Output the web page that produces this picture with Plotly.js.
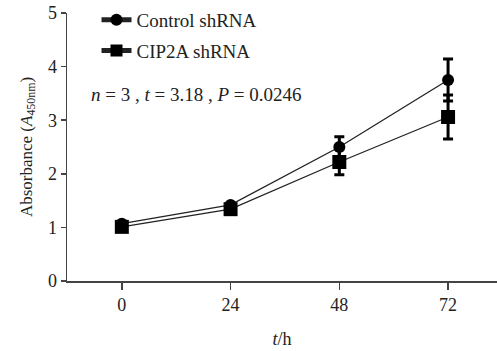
<!DOCTYPE html>
<html><head><meta charset="utf-8">
<script src="https://cdn.plot.ly/plotly-3.0.1.min.js"></script>
<style>body{margin:0;padding:0;background:#fff}#plot{width:497px;height:351px}</style>
</head><body><div id="plot"></div>
<script>
const hours = [0, 24, 48, 72];
const controlMean = [1.07, 1.42, 2.50, 3.75];
const controlErr = [0.0, 0.03, 0.19, 0.39];
const cip2aMean = [1.01, 1.34, 2.22, 3.06];
const cip2aErr = [0.0, 0.03, 0.24, 0.41];
const xTicks = [0, 24, 48, 72];
const yTicks = [0, 1, 2, 3, 4, 5];

const font = "Liberation Serif, Times New Roman, serif";
const traces = [
  {x: hours, y: controlMean, name: 'Control shRNA', legendgroup: 'a', type: 'scatter', mode: 'lines+markers',
   line: {color: '#222', width: 1.3}, marker: {symbol: 'circle', size: 12, color: '#000'},
   error_y: {type: 'data', array: controlErr, color: '#000', thickness: 3, width: 5}},
  {x: hours, y: cip2aMean, name: 'CIP2A shRNA', legendgroup: 'b', type: 'scatter', mode: 'lines+markers',
   line: {color: '#222', width: 1.3}, marker: {symbol: 'square', size: 14, color: '#000'},
   error_y: {type: 'data', array: cip2aErr, color: '#000', thickness: 3, width: 5}}
];
const layout = {
  width: 497, height: 351,
  margin: {l: 67, r: 0, t: 13, b: 70},
  paper_bgcolor: '#fff', plot_bgcolor: '#fff',
  font: {family: font, size: 18, color: '#222'},
  showlegend: true,
  legend: {x: 0.0686, y: 1.045, xanchor: 'left', yanchor: 'top', bgcolor: 'rgba(0,0,0,0)',
    traceorder: 'grouped', tracegroupgap: 3,
    font: {family: font, size: 19, color: '#222'}, itemsizing: 'constant'},
  xaxis: {range: [-12.1, 82.8], tickvals: xTicks, ticktext: xTicks.map(String),
    showgrid: false, zeroline: false, showline: true, linecolor: '#444', linewidth: 1.5,
    ticks: 'outside', ticklen: 7, tickwidth: 1.5, tickcolor: '#444',
    tickfont: {family: font, size: 18, color: '#222'},
    title: {text: '<i>t</i>/h', font: {family: font, size: 18, color: '#222'}, standoff: 18}},
  yaxis: {range: [0, 5], tickvals: yTicks, ticktext: yTicks.map(String),
    showgrid: false, zeroline: false, showline: true, linecolor: '#444', linewidth: 1.5,
    ticks: 'outside', ticklen: 5, tickwidth: 1.5, tickcolor: '#444',
    tickfont: {family: font, size: 18, color: '#222'},
    title: {text: 'Absorbance (<i>A</i><sub>450nm</sub>)', font: {family: font, size: 17, color: '#222'}, standoff: 11}},
  annotations: [{xref: 'paper', yref: 'paper', x: 0.05, y: 0.696, xanchor: 'left', yanchor: 'middle',
    showarrow: false, text: '<i>n</i> = 3 , <i>t</i> = 3.18 , <i>P</i> = 0.0246',
    font: {family: font, size: 19, color: '#222'}}]
};
Plotly.newPlot('plot', traces, layout, {staticPlot: true});
</script></body></html>
